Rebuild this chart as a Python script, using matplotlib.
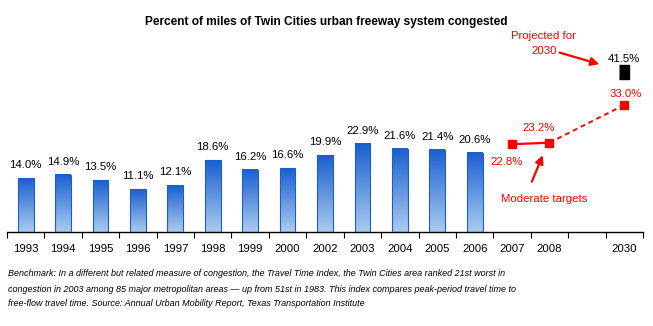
import matplotlib
matplotlib.use("Agg")
import matplotlib.pyplot as plt
import numpy as np
from matplotlib.colors import LinearSegmentedColormap

plt.rcParams["font.family"] = ["Liberation Sans", "DejaVu Sans"]

# categories along the axis (blank slot before 2030)
labels = ["1993", "1994", "1995", "1996", "1997", "1998", "1999", "2000",
          "2002", "2003", "2004", "2005", "2006", "2007", "2008", "", "2030"]
bar_years = ["1993", "1994", "1995", "1996", "1997", "1998", "1999", "2000",
             "2002", "2003", "2004", "2005", "2006"]
bar_pct = [14.0, 14.9, 13.5, 11.1, 12.1, 18.6, 16.2, 16.6,
           19.9, 22.9, 21.6, 21.4, 20.6]
target_years = ["2007", "2008", "2030"]
target_pct = [22.8, 23.2, 33.0]
projected_year = "2030"
projected_pct = 41.5

note_lines = [
    "Benchmark: In a different but related measure of congestion, the Travel Time Index, "
    "the Twin Cities area ranked 21st worst in",
    "congestion in 2003 among 85 major metropolitan areas \u2014 up from 51st in 1983. "
    "This index compares peak-period travel time to",
    "free-flow travel time. Source: Annual Urban Mobility Report, Texas Transportation Institute",
]

RED = "#ff0000"
pos = {lab: i for i, lab in enumerate(labels) if lab}

fig = plt.figure(figsize=(6.53, 3.26), dpi=100)
ax = fig.add_axes([7 / 653, 94 / 326, 636 / 653, 192.5 / 326])
ax.set_xlim(-0.5, len(labels) - 0.5)
ax.set_ylim(0, 50)

cmap = LinearSegmentedColormap.from_list("blu", ["#aacbef", "#1a5fcf"])
grad = np.linspace(0, 1, 256).reshape(-1, 1)
w = 0.42
for yr, v in zip(bar_years, bar_pct):
    x = pos[yr]
    ax.imshow(grad, cmap=cmap, origin="lower", aspect="auto",
              extent=(x - w / 2, x + w / 2, 0, v), zorder=2)
    ax.bar(x, v, width=w, facecolor="none", edgecolor="#1a5fcf", linewidth=0.8, zorder=3)
    ax.text(x, v + 3.4, f"{v:.1f}%", ha="center", va="center", fontsize=8.2)

# moderate targets
tx = [pos[y] for y in target_years]
ax.plot(tx[:2], target_pct[:2], color=RED, lw=1.6, zorder=4)
ax.plot(tx[1:], target_pct[1:], color=RED, lw=1.4, ls=(0, (2.5, 2)), zorder=4)
ax.plot(tx, target_pct, ls="none", marker="s", ms=5.5, color=RED, zorder=5)
ax.text(tx[0] - 0.15, target_pct[0] - 4.6, f"{target_pct[0]:.1f}%", ha="center",
        va="center", fontsize=8.2, color=RED)
ax.text(tx[1] - 0.3, target_pct[1] + 3.7, f"{target_pct[1]:.1f}%", ha="center",
        va="center", fontsize=8.2, color=RED)
ax.text(tx[2] + 0.05, target_pct[2] + 2.9, f"{target_pct[2]:.1f}%", ha="center",
        va="center", fontsize=8.2, color=RED)

# projection
px = pos[projected_year]
rect = [(-0.8, -1), (0.8, -1), (0.8, 1), (-0.8, 1)]
ax.plot([px], [projected_pct], ls="none", marker=rect, ms=9.5, color="black", zorder=5)
ax.text(px, projected_pct + 3.4, f"{projected_pct:.1f}%", ha="center", va="center",
        fontsize=8.2)

ax.annotate("", xy=(px - 0.6, projected_pct + 1.9), xytext=(14.2, 46.8),
            arrowprops=dict(arrowstyle="-|>", color=RED, lw=1.6, mutation_scale=12),
            zorder=6)
ax.text(13.85, 49.0, "Projected for\n2030", ha="center", va="center", fontsize=8.2,
        color=RED, linespacing=1.65, clip_on=False)
ax.annotate("", xy=(13.85, 20.6), xytext=(13.5, 12.4),
            arrowprops=dict(arrowstyle="-|>", color=RED, lw=1.6, mutation_scale=12),
            zorder=6)
ax.text(13.85, 8.6, "Moderate targets", ha="center", va="center", fontsize=8.2,
        color=RED)

for s in ("top", "right", "left"):
    ax.spines[s].set_visible(False)
ax.spines["bottom"].set_linewidth(1.0)
ax.set_yticks([])
ax.set_xticks(range(len(labels)))
ax.set_xticklabels(labels, fontsize=8.2)
ax.tick_params(axis="x", which="major", length=0, pad=8.5)
ax.set_xticks(np.arange(-0.5, len(labels)), minor=True)
ax.tick_params(axis="x", which="minor", length=4, width=0.8)

fig.text(0.5, 1 - 22 / 326, "Percent of miles of Twin Cities urban freeway system congested",
         ha="center", va="center", fontsize=8.55, fontweight="bold")

for i, line in enumerate(note_lines):
    fig.text(8 / 653, 1 - (274 + 15 * i) / 326, line, ha="left", va="center",
             fontsize=6.45, style="italic")

fig.savefig("out.png", dpi=100)
